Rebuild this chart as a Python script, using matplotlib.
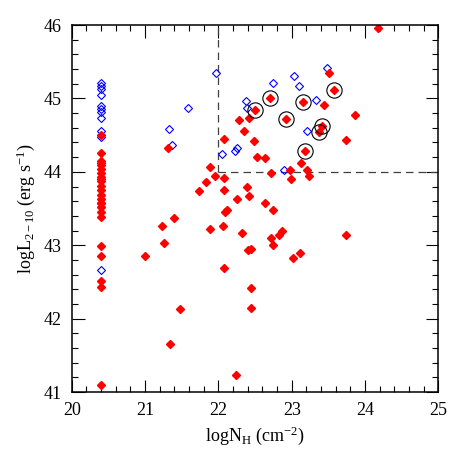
import numpy as np
import matplotlib
matplotlib.use("Agg")
import matplotlib.pyplot as plt
from matplotlib.ticker import MultipleLocator

plt.rcParams['font.family'] = ['Liberation Serif', 'DejaVu Serif']
plt.rcParams['mathtext.fontset'] = 'custom'
plt.rcParams['mathtext.rm'] = 'Liberation Serif'
plt.rcParams['mathtext.it'] = 'Liberation Serif:italic'

# ------------------------------------------------------------
# Data (logNH, logL 2-10 keV)
# ------------------------------------------------------------
# sources with only an upper limit on NH (column at 20.4)
col_nh = 20.4
col_blue_l = [45.21, 45.17, 45.13, 45.05, 44.90, 44.86, 44.81, 44.73,
              44.56, 44.47, 44.12, 43.90, 43.57, 42.66]
col_red_l = [44.50, 44.26, 44.15, 44.09, 44.04, 43.98, 43.93, 43.87,
             43.81, 43.75, 43.68, 43.63, 43.57, 43.52, 43.45, 43.38,
             42.99, 42.86, 42.52, 42.43, 41.10]

# open blue diamonds
blue_nh = [21.96, 22.74, 23.03, 23.10, 23.48, 22.38, 22.39, 23.33, 23.21,
           22.05, 22.22, 22.25, 22.90, 21.59, 21.33, 21.37]
blue_l = [45.35, 45.21, 45.31, 45.17, 45.42, 44.97, 44.87, 44.98, 44.56,
          44.25, 44.29, 44.33, 44.02, 44.87, 44.59, 44.36]

# filled red diamonds
red_nh = [23.51, 23.44, 23.86, 23.74, 22.28, 22.41, 22.35, 22.07, 22.48,
          22.52, 22.64, 23.12, 23.21, 23.24, 22.97, 22.99, 22.71, 21.89,
          21.95, 22.07, 21.83, 22.39, 22.08, 24.18, 21.73, 22.42, 22.25,
          22.63, 22.74, 22.09, 22.11, 21.39, 21.23, 21.88, 22.06, 22.32,
          22.71, 22.74, 22.83, 22.86, 21.26, 21.00, 22.40, 22.45, 23.01,
          23.11, 23.74, 22.07, 22.45, 21.47, 22.45, 21.34, 22.24, 21.31]
red_l = [45.35, 44.91, 44.78, 44.43, 44.71, 44.74, 44.56, 44.45, 44.42,
         44.20, 44.19, 44.12, 44.03, 43.95, 44.02, 43.90, 43.99, 44.06,
         43.94, 43.92, 43.86, 43.79, 43.75, 45.96, 43.74, 43.67, 43.63,
         43.58, 43.48, 43.45, 43.48, 43.37, 43.26, 43.22, 43.26, 43.17,
         43.10, 43.00, 43.14, 43.20, 43.03, 42.86, 42.93, 42.95, 42.83,
         42.89, 43.14, 42.69, 42.42, 42.13, 42.15, 41.66, 41.24, 44.33]

# circled (red) sources
circ_nh = [22.50, 22.70, 22.92, 23.15, 23.57, 23.41, 23.37, 23.18]
circ_l = [44.84, 45.00, 44.72, 44.95, 45.12, 44.62, 44.54, 44.28]

# ------------------------------------------------------------
fig = plt.figure(figsize=(4.63, 4.63), dpi=100)
ax = fig.add_axes([0.155, 0.153, 0.792, 0.793])

# quasar-2 region boundaries
ax.plot([22, 22], [44, 46], ls=(0, (6, 4)), color='0.25', lw=0.9)
ax.plot([22, 25], [44, 44], ls=(0, (6, 4)), color='0.25', lw=0.9)

ms = 4.0
ax.plot([col_nh] * len(col_blue_l), col_blue_l, 'D', ms=ms, mfc='none',
        mec='blue', mew=0.8, ls='none')
ax.plot(blue_nh, blue_l, 'D', ms=ms, mfc='none', mec='blue', mew=0.8,
        ls='none')
ax.plot([col_nh] * len(col_red_l), col_red_l, 'D', ms=ms, color='red',
        ls='none')
ax.plot(red_nh, red_l, 'D', ms=ms, color='red', ls='none')
ax.plot(circ_nh, circ_l, 'D', ms=ms, color='red', ls='none')
ax.plot(circ_nh, circ_l, 'o', ms=11, mfc='none', mec='black', mew=0.8,
        ls='none')

ax.set_xlim(20, 25)
ax.set_ylim(41, 46)
ax.xaxis.set_major_locator(MultipleLocator(1))
ax.xaxis.set_minor_locator(MultipleLocator(0.2))
ax.yaxis.set_major_locator(MultipleLocator(1))
ax.yaxis.set_minor_locator(MultipleLocator(0.2))
ax.tick_params(which='both', direction='in', top=True, right=True,
               labelsize=13, width=0.8)
ax.tick_params(which='major', length=9, pad=7)
ax.tick_params(which='minor', length=4)
for s in ax.spines.values():
    s.set_linewidth(1.1)

ax.set_xlabel(r'logN$_{\mathrm{H}}$ (cm$^{-2}$)', fontsize=13, labelpad=4)
ax.set_ylabel(r'logL$_{2-10}$ (erg s$^{-1}$)', fontsize=13, labelpad=5)

fig.savefig('out.png', dpi=100)
